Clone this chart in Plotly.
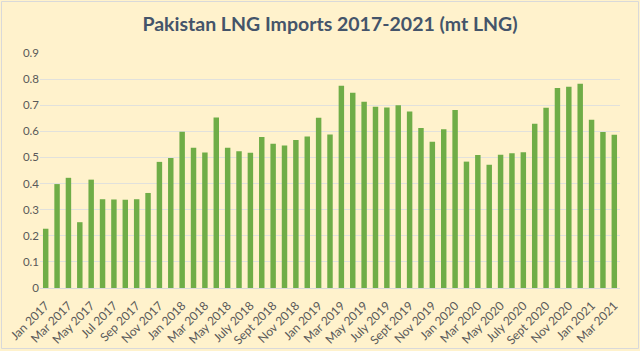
import plotly.graph_objects as go

months = [
    "Jan 2017", "Feb 2017", "Mar 2017", "Apr 2017", "May 2017", "Jun 2017",
    "Jul 2017", "Aug 2017", "Sep 2017", "Oct 2017", "Nov 2017", "Dec 2017",
    "Jan 2018", "Feb 2018", "Mar 2018", "Apr 2018", "May 2018", "Jun 2018",
    "July 2018", "Aug 2018", "Sept 2018", "Oct 2018", "Nov 2018", "Dec 2018",
    "Jan 2019", "Feb 2019", "Mar 2019", "Apr 2019", "May 2019", "Jun 2019",
    "July 2019", "Aug 2019", "Sept 2019", "Oct 2019", "Nov 2019", "Dec 2019",
    "Jan 2020", "Feb 2020", "Mar 2020", "Apr 2020", "May 2020", "Jun 2020",
    "July 2020", "Aug 2020", "Sept 2020", "Oct 2020", "Nov 2020", "Dec 2020",
    "Jan 2021", "Feb 2021", "Mar 2021",
]

lng_imports = [
    0.227, 0.398, 0.422, 0.252, 0.415, 0.340, 0.339, 0.338, 0.340, 0.364,
    0.483, 0.498, 0.598, 0.537, 0.519, 0.653, 0.537, 0.524, 0.518, 0.578,
    0.552, 0.546, 0.567, 0.580, 0.652, 0.588, 0.775, 0.748, 0.713, 0.694,
    0.691, 0.700, 0.676, 0.613, 0.560, 0.608, 0.682, 0.484, 0.509, 0.472,
    0.510, 0.516, 0.520, 0.629, 0.690, 0.766, 0.771, 0.782, 0.644, 0.597,
    0.587,
]

tick_labels = months[::2]
y_ticks = [0, 0.1, 0.2, 0.3, 0.4, 0.5, 0.6, 0.7, 0.8, 0.9]

W, H = 640, 351
ml, mr, mt, mb = 40, 20, 53, 63

fig = go.Figure()
fig.add_trace(go.Bar(
    x=months, y=lng_imports,
    marker=dict(color="#6FAD47", line=dict(width=0)),
    hoverinfo="x+y",
))

pw = W - ml - mr
ph = H - mt - mb
fig.add_shape(
    type="rect", xref="paper", yref="paper",
    x0=(-ml + 1.5) / pw, x1=(pw + mr - 1.5) / pw,
    y0=(-mb + 2.5) / ph, y1=(ph + mt - 1.5) / ph,
    line=dict(color="#D9D9D9", width=1), fillcolor="rgba(0,0,0,0)", layer="below",
)

fig.update_layout(
    width=W, height=H,
    margin=dict(l=ml, r=mr, t=mt, b=mb),
    paper_bgcolor="#FFF2CC",
    plot_bgcolor="#FFF2CC",
    bargap=0.52,
    showlegend=False,
    title=dict(
        text="<b>Pakistan LNG Imports 2017-2021 (mt LNG)</b>",
        x=0.5, xref="paper", xanchor="center",
        y=1 - 24 / H, yanchor="middle",
        font=dict(family="Lato, Open Sans, sans-serif", size=19.5, color="#44546A"),
    ),
    font=dict(family="Lato, Open Sans, sans-serif", size=11, color="#595959"),
    xaxis=dict(
        type="category", automargin=False,
        tickmode="array", tickvals=tick_labels, ticktext=tick_labels,
        tickangle=-45, showgrid=False, showline=True, linecolor="#D9D9D9",
        ticks="", ticklabelstandoff=5, tickfont=dict(size=12, color="#595959"),
    ),
    yaxis=dict(
        range=[0, 0.9], tickmode="array", tickvals=y_ticks, automargin=False,
        ticktext=["0" if v == 0 else f"{v:.1f}" for v in y_ticks],
        showgrid=True, gridcolor="#E1E1DC", gridwidth=1,
        zeroline=False, showline=False, ticks="",
        tickfont=dict(size=11.5, color="#595959"),
    ),
)

fig.write_html("out.html")
